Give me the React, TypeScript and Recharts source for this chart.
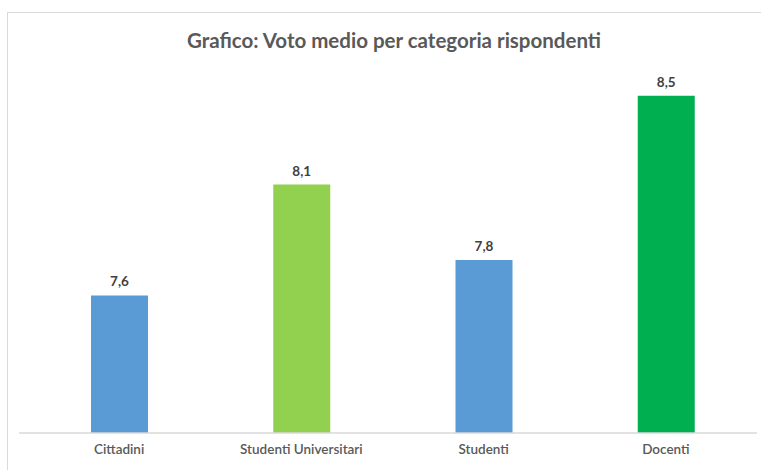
import { BarChart, Bar, XAxis, YAxis, Cell, LabelList } from "recharts";

const categories = ["Cittadini", "Studenti Universitari", "Studenti", "Docenti"];
const votes = [7.62, 8.12, 7.78, 8.52];
const barColors = ["#5B9BD5", "#92D050", "#5B9BD5", "#00B050"];

const data = categories.map((name, i) => ({ name, value: votes[i] }));

const FONT = "Lato, 'Open Sans', sans-serif";

export default function App() {
  return (
    <div style={{ position: "absolute", left: 0, top: 0, width: 761, height: 470, background: "#fff", overflow: "hidden" }}>
      {/* chart frame, runs off the right and bottom edges */}
      <div
        style={{
          position: "absolute",
          left: 7,
          top: 12,
          width: 800,
          height: 500,
          border: "1px solid #d9d9d9",
          boxSizing: "border-box",
        }}
      />
      <div
        style={{
          position: "absolute",
          left: 7,
          right: -20,
          top: 28,
          textAlign: "center",
          fontFamily: FONT,
          fontWeight: 700,
          fontSize: 20.5,
          color: "#595959",
        }}
      >
        Grafico: Voto medio per categoria rispondenti
      </div>
      <div style={{ position: "absolute", left: 0, top: 0 }}>
        <BarChart
          width={761}
          height={470}
          data={data}
          margin={{ top: 78, right: 4, bottom: 7, left: 19 }}
        >
          <XAxis
            dataKey="name"
            height={30}
            padding={{ left: 9, right: 0 }}
            axisLine={{ stroke: "#d9d9d9", strokeWidth: 1.5 }}
            tickLine={false}
            tickMargin={5}
            tick={{ fill: "#595959", fontSize: 13.5, fontFamily: FONT, fontWeight: 600 }}
            interval={0}
          />
          <YAxis hide domain={[7, 8.6]} />
          <Bar dataKey="value" barSize={57} isAnimationActive={false}>
            {data.map((d, i) => (
              <Cell key={d.name} fill={barColors[i]} />
            ))}
            <LabelList
              dataKey="value"
              position="top"
              offset={9}
              formatter={(v: any) => Number(v).toFixed(1).replace(".", ",")}
              style={{ fill: "#404040", fontSize: 13.5, fontFamily: FONT, fontWeight: 700 }}
            />
          </Bar>
        </BarChart>
      </div>
    </div>
  );
}
